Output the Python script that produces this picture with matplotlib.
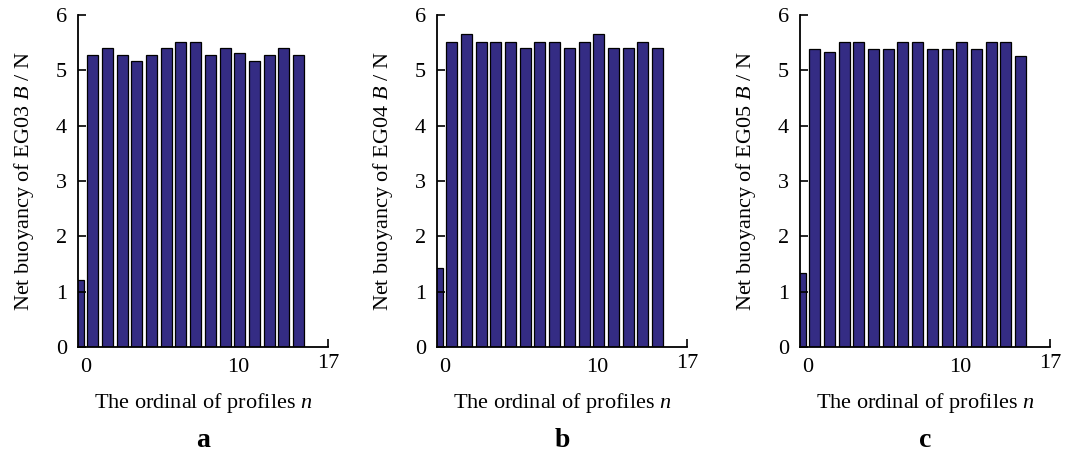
import numpy as np
import matplotlib
matplotlib.use("Agg")
from matplotlib import pyplot as plt

plt.rcParams['font.family'] = 'Liberation Serif'
plt.rcParams['mathtext.fontset'] = 'custom'
plt.rcParams['mathtext.rm'] = 'Liberation Serif'
plt.rcParams['mathtext.it'] = 'Liberation Serif:italic'

# net buoyancy per profile
profiles = np.arange(16)
eg03 = [1.21, 5.28, 5.40, 5.28, 5.16, 5.28, 5.40, 5.52, 5.52, 5.28, 5.40, 5.32, 5.16, 5.28, 5.40, 5.28]
eg04 = [1.42, 5.52, 5.65, 5.52, 5.52, 5.52, 5.40, 5.52, 5.52, 5.40, 5.52, 5.65, 5.40, 5.40, 5.52, 5.40]
eg05 = [1.34, 5.38, 5.33, 5.51, 5.51, 5.38, 5.38, 5.51, 5.51, 5.38, 5.38, 5.51, 5.38, 5.51, 5.51, 5.26]

panels = [("EG03", eg03, "a"), ("EG04", eg04, "b"), ("EG05", eg05, "c")]
lefts = [0.0727, 0.4073, 0.7456]

fig = plt.figure(figsize=(10.73, 4.55), dpi=100)

for (name, vals, letter), left in zip(panels, lefts):
    ax = fig.add_axes([left, 0.2374, 0.233, 0.7297])
    ax.bar(profiles, vals, width=0.75, color='#342C84', edgecolor='black', linewidth=0.9)
    ax.set_xlim(0, 17)
    ax.set_ylim(0, 6)
    ax.spines['top'].set_visible(False)
    ax.spines['right'].set_visible(False)
    for s in ['left', 'bottom']:
        ax.spines[s].set_linewidth(1.3)

    ax.set_yticks(range(7))
    ax.tick_params(axis='y', direction='in', length=6, width=1.2, pad=8, labelsize=16)

    ax.set_xticks([0.55, 10.9])
    ax.set_xticklabels(['0', '10'])
    ax.tick_params(axis='x', which='major', length=0, pad=8, labelsize=16)
    ax.set_xticks([17], minor=True)
    ax.set_xticklabels(['17'], minor=True)
    ax.tick_params(axis='x', which='minor', direction='in', length=6, width=1.2, pad=5, labelsize=16)

    ax.set_ylabel(f"Net buoyancy of {name} $B$ / N", fontsize=16, labelpad=14)
    ax.set_xlabel("The ordinal of profiles $n$", fontsize=16, labelpad=10)
    ax.text(0.5, -0.302, letter, transform=ax.transAxes, ha='center', va='baseline',
            fontsize=20, fontweight='bold')

fig.savefig("out.png", dpi=100)
